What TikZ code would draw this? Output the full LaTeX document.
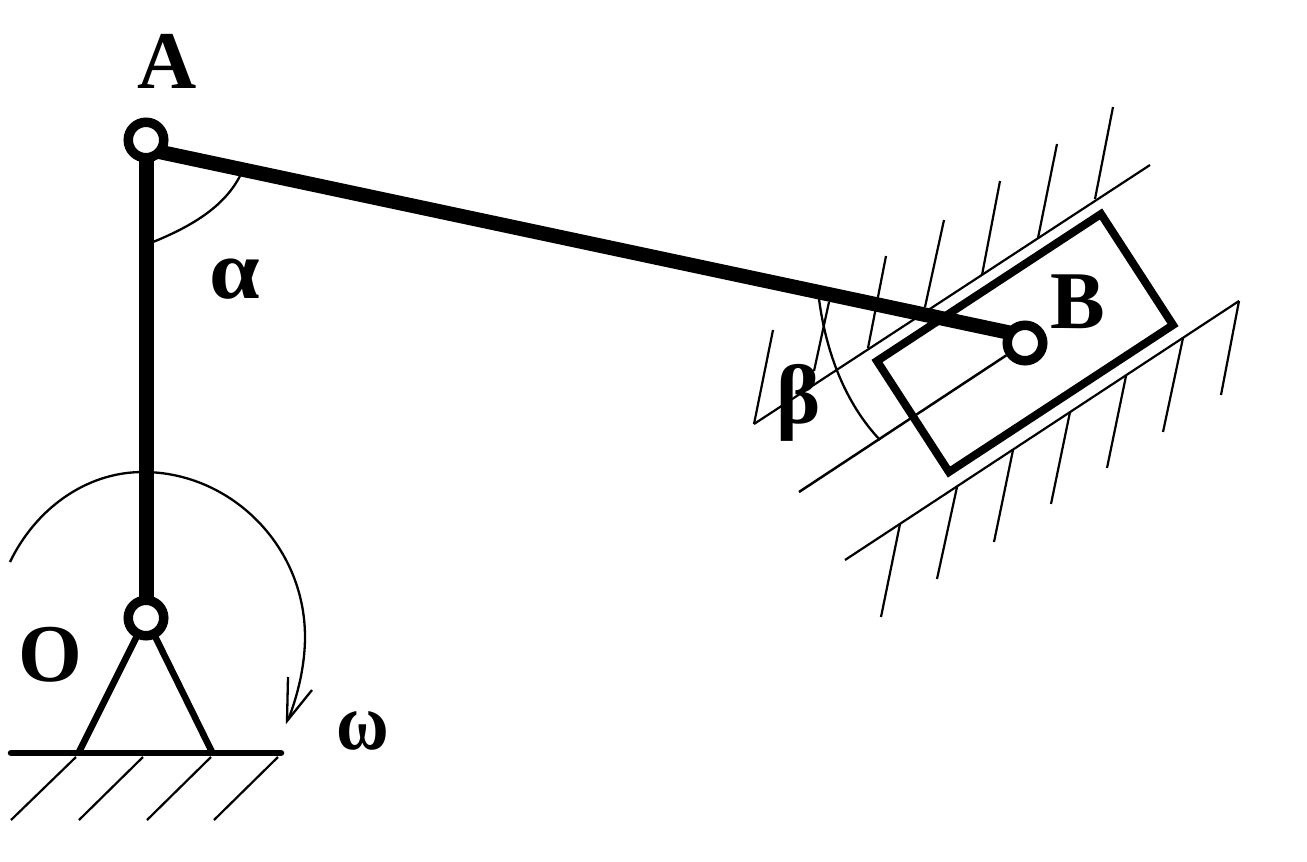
\documentclass[tikz,border=0pt]{standalone}
\usepackage{fontspec}
\usepackage{graphicx}
\setmainfont{Liberation Serif}
\usetikzlibrary{backgrounds}
\tikzset{
  pin/.style={circle,draw=black,fill=white,line width=9.5pt,minimum size=35.5pt,inner sep=0pt},
  rod/.style={line width=15pt,line cap=butt},
  rodab/.style={line width=14.5pt,line cap=butt},
  hatchline/.style={line width=2.2pt},
  guideline/.style={line width=2.5pt},
  slider/.style={line width=8pt,line join=miter},
  groundline/.style={line width=6.5pt,line cap=round},
  strut/.style={line width=6.5pt},
  arcline/.style={line width=2.3pt},
  lbl/.style={anchor=base,inner sep=0pt,font=\fontsize{82}{82}\selectfont\bfseries},
  glbl/.style={anchor=base,inner sep=0pt,font=\fontsize{84}{84}\selectfont\bfseries}
}
\begin{document}
\begin{tikzpicture}[x=1pt,y=-1pt]
\useasboundingbox (0,0) rectangle (1307,862);
% pins
\node[pin] (A) at (146,140) {};
\node[pin] (O) at (146,618) {};
\node[pin] (B) at (1025,343) {};
% free ends
\coordinate (G1) at (11,753);
\coordinate (G2) at (281,753);
\coordinate (S1) at (79,752);
\coordinate (S2) at (212,752);
\coordinate (M0) at (799,492);
\coordinate (U0) at (754,424);
\coordinate (U1) at (1150,165);
\coordinate (L0) at (845,560);
\coordinate (L1) at (1239,301);
\coordinate (R1) at (1101,214);
\coordinate (R2) at (1173,325);
\coordinate (R3) at (949,472);
\coordinate (R4) at (877,361);
\coordinate (Tip) at (287,721);
\coordinate (Ba) at (288,677);
\coordinate (Bb) at (312,690);
\begin{pgfonlayer}{background}
  \fill[white] (0,0) rectangle (1307,862);
  \draw[rod] (A.center) -- (O.center);
  \draw[rodab] ([yshift=-9pt]A.center) -- ([yshift=7pt]B.center);
  \draw[strut] (O.center) -- (S1);
  \draw[strut] (O.center) -- (S2);
\end{pgfonlayer}
\draw[groundline] (G1) -- (G2);
\foreach \xa/\ya/\xb/\yb in {76/757/11/820,143/757/79/820,211/757/147/820,278/757/214/820}
  \draw[hatchline] (\xa,\ya) -- (\xb,\yb);
% guides
\draw[hatchline] (U0) -- (U1);
\draw[hatchline] (L0) -- (L1);
\draw[guideline] (M0) -- (B);
\foreach \xa/\ya/\xb/\yb in {
  773/330/754/424,829/302/814/371,886/256/868/348,944/220/925/307,
  1000/181/982/275,1057/144/1038/238,1113/107/1095/199,
  900/524/881/617,957/487/937/579,1013/450/994/542,1070/412/1051/504,
  1126/376/1107/468,1183/338/1163/432,1239/301/1221/395}
  \draw[hatchline] (\xa,\ya) -- (\xb,\yb);
\draw[slider] (R1) -- (R2) -- (R3) -- (R4) -- cycle;
% arcs
\draw[arcline] (240,176) .. controls (225,205) and (195,225) .. (153,242);
\draw[arcline] (819,299) .. controls (826,352) and (845,403) .. (880,440);
\draw[arcline] (10,562) .. controls (35,510) and (85,472) .. (143,472)
  .. controls (230,472) and (305,545) .. (305,637)
  .. controls (305,665) and (298,695) .. (288,720);
\draw[arcline] (Ba) -- (Tip) -- (Bb);
% labels
\node[lbl] (la) at (167,88) {A};
\node[lbl] (lo) at (50,681) {O};
\node[lbl] (lb) at (1078,328) {B};
\node[glbl] (lal) at (235,298) {\scalebox{1.08}[1]{α}};
\node[glbl] (lbe) at (799,423) {β};
\node[font=\fontsize{72}{72}\selectfont\bfseries,anchor=base,inner sep=0pt] (lom) at (363,749) {\scalebox{1}[1.12]{ω}};
\end{tikzpicture}
\end{document}
